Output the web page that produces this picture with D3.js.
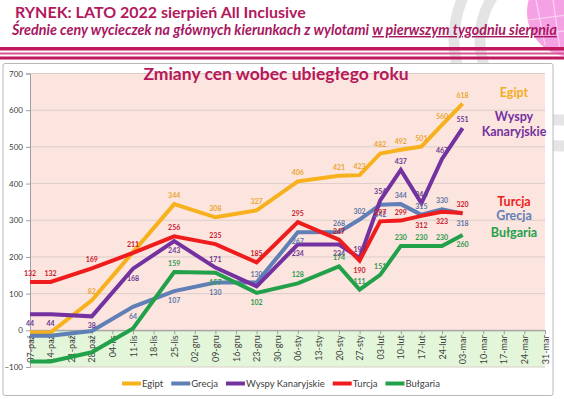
<!DOCTYPE html>
<html>
<head>
<meta charset="utf-8">
<script src="https://cdn.jsdelivr.net/npm/d3@7"></script>
<style>
body { margin: 0; background: #fff; }
svg { display: block; }
text { font-family: Lato, "Open Sans", sans-serif; }
</style>
</head>
<body>
<div id="viz"></div>
<script>
//==============================================================================
// Data (null = no reading that week, line is drawn straight across)
var weeks = ["07-paź","14-paź","21-paź","28-paź","04-lis","11-lis","18-lis","25-lis",
	"02-gru","09-gru","16-gru","23-gru","30-gru","06-sty","13-sty","20-sty","27-sty",
	"03-lut","10-lut","17-lut","24-lut","03-mar","10-mar","17-mar","24-mar","31-mar"];

var egipt    = [-6, -6, null, 82, null, null, null, 344, null, 308, null, 327, null, 406, null, 421, 423, 482, 492, 501, 560, 618];
var grecja   = [-15, -15, null, -2, null, 64, null, 107, null, 130, null, 130, null, 267, null, 268, 302, 342, 344, 315, 330, 318];
var wyspy    = [44, 44, null, 38, null, 168, null, 243, null, 171, null, 120, null, 234, null, 234, 197, 354, 437, 346, 467, 551];
var turcja   = [132, 132, null, 169, null, 211, null, 256, null, 235, null, 185, null, 295, null, 247, 190, 297, 299, 312, 323, 320];
var bulgaria = [-85, -85, null, -60, null, 5, null, 159, null, 157, null, 102, null, 128, null, 174, 111, 151, 230, 230, 230, 260];

var seriesNames = ["Egipt", "Grecja", "Wyspy Kanaryjskie", "Turcja", "Bułgaria"];
var yTicks = [-100, 0, 100, 200, 300, 400, 500, 600, 700];

//==============================================================================
// Layout / style
var width = 564, height = 399;
var plot = {left: 30, right: 545, top: 73.5, bottom: 367};
var font = "Lato, 'Open Sans', sans-serif";

// line colour, label colour, default label side (-1 above, 1 below), flipped / hidden label indices
var styles = [
	{values: egipt,    color: "#f6b11c", lab: "#e9a532", side: -1, flip: [], hide: []},
	{values: grecja,   color: "#5f7fb6", lab: "#5b77a6", side: 1,  flip: [11, 15, 16, 18, 19, 20], hide: []},
	{values: wyspy,    color: "#7332a0", lab: "#6a3a92", side: 1,  flip: [9, 16, 17, 18, 19, 20, 21], hide: [11]},
	{values: turcja,   color: "#ee1c1c", lab: "#c8202c", side: -1, flip: [16, 19, 20], hide: []},
	{values: bulgaria, color: "#22a04a", lab: "#2f9a4e", side: -1, flip: [9, 11, 21], hide: []}
];

var svg = d3.select("#viz").append("svg")
	.attr("width", width)
	.attr("height", height);

//==============================================================================
// Slide decoration
var deco = svg.append("g");
deco.append("circle").attr("cx", 560).attr("cy", 40).attr("r", 106)
	.attr("fill", "none").attr("stroke", "#e4e4e4").attr("stroke-width", 11);
deco.append("circle").attr("cx", 560).attr("cy", 40).attr("r", 80)
	.attr("fill", "none").attr("stroke", "#e4e4e4").attr("stroke-width", 11);

// globe
deco.append("circle").attr("cx", 572).attr("cy", 12).attr("r", 45).attr("fill", "#f5a2e4");
[[535, -5, 545, 45], [552, -8, 560, 50], [528, 20, 575, 14], [532, 34, 575, 30]].forEach(function(p) {
	deco.append("line")
		.attr("x1", p[0]).attr("y1", p[1]).attr("x2", p[2]).attr("y2", p[3])
		.attr("stroke", "#fbd3f2").attr("stroke-width", 1.2);
});

// stripes under title
deco.append("rect").attr("x", 0).attr("y", 47).attr("width", width).attr("height", 3.5).attr("fill", "#c0175d");
deco.append("rect").attr("x", 0).attr("y", 52.5).attr("width", width).attr("height", 2).attr("fill", "#d6568f");
deco.append("rect").attr("x", 0).attr("y", 56.5).attr("width", width).attr("height", 3).attr("fill", "#c0175d");

// titles
svg.append("text")
	.attr("x", 15).attr("y", 18)
	.attr("font-size", 16).attr("font-weight", 700)
	.attr("fill", "#b3185c")
	.text("RYNEK: LATO 2022 sierpień All Inclusive");

var sub = svg.append("text")
	.attr("x", 12).attr("y", 35)
	.attr("font-size", 14.3).attr("font-style", "italic").attr("font-weight", 700)
	.attr("fill", "#a8185f");
sub.append("tspan").text("Średnie ceny wycieczek na głównych kierunkach z wylotami ");
sub.append("tspan").attr("text-decoration", "underline").text("w pierwszym tygodniu sierpnia");

//==============================================================================
// Chart frame and plot backgrounds
svg.append("rect")
	.attr("x", 3).attr("y", 63.5).attr("width", 550).attr("height", 332).attr("rx", 2)
	.attr("fill", "#fff").attr("stroke", "#b8b8b8");

var x = d3.scalePoint().domain(weeks).range([plot.left, plot.right]);
var y = d3.scaleLinear().domain([-100, 700]).range([plot.bottom, plot.top]);

svg.append("rect")
	.attr("x", plot.left).attr("y", y(700))
	.attr("width", plot.right - plot.left).attr("height", y(0) - y(700))
	.attr("fill", "#fde5df");
svg.append("rect")
	.attr("x", plot.left).attr("y", y(0))
	.attr("width", plot.right - plot.left).attr("height", y(-100) - y(0))
	.attr("fill", "#e3f6da");

// gridlines
svg.append("g").selectAll("line")
	.data(yTicks)
	.enter().append("line")
	.attr("x1", plot.left).attr("x2", plot.right)
	.attr("y1", function(d) { return y(d) }).attr("y2", function(d) { return y(d) })
	.attr("stroke", function(d) { return d == 0 ? "#a8a8a8" : "#dccdc9" });

// y axis
var yAxis = svg.append("g")
	.attr("transform", "translate(" + plot.left + ",0)")
	.call(d3.axisLeft(y).tickValues(yTicks).tickSize(4).tickPadding(3));
yAxis.selectAll("text").attr("font-size", 8).attr("font-family", font).attr("fill", "#404040");
yAxis.selectAll("line, path").attr("stroke", "#a0a0a0");

// x axis on the zero line, labels rotated
var xAxis = svg.append("g")
	.attr("transform", "translate(0," + y(0) + ")")
	.call(d3.axisBottom(x).tickSize(4).tickSizeOuter(0));
xAxis.select(".domain").attr("stroke", "#a0a0a0");
xAxis.selectAll("line").attr("stroke", "#a0a0a0");
xAxis.selectAll("text")
	.attr("font-size", 9).attr("font-family", font).attr("fill", "#404040")
	.attr("transform", "rotate(-90)")
	.attr("text-anchor", "end")
	.attr("x", -5).attr("y", 0).attr("dy", "0.35em");

// chart title
svg.append("text")
	.attr("x", 276).attr("y", 79.5)
	.attr("text-anchor", "middle")
	.attr("font-size", 17.5).attr("font-weight", 700)
	.attr("fill", "#b5185b")
	.text("Zmiany cen wobec ubiegłego roku");

//==============================================================================
// Lines
var line = d3.line()
	.x(function(d) { return x(d.week) })
	.y(function(d) { return y(d.v) });

var pts = styles.map(function(s) {
	return s.values.map(function(v, i) { return {week: weeks[i], v: v, i: i} })
		.filter(function(d) { return d.v !== null });
});

svg.append("g").selectAll("path")
	.data(styles)
	.enter().append("path")
	.attr("d", function(s, k) { return line(pts[k]) })
	.attr("fill", "none")
	.attr("stroke", function(s) { return s.color })
	.attr("stroke-width", 4)
	.attr("stroke-linejoin", "miter");

// data labels
styles.forEach(function(s, k) {
	svg.append("g").selectAll("text")
		.data(pts[k].filter(function(d) { return d.v >= 10 && s.hide.indexOf(d.i) < 0 }))
		.enter().append("text")
		.attr("x", function(d) { return x(d.week) })
		.attr("y", function(d) {
			var side = s.flip.indexOf(d.i) >= 0 ? -s.side : s.side;
			return y(d.v) + (side < 0 ? -6 : 12);
		})
		.attr("text-anchor", "middle")
		.attr("font-size", 7).attr("font-weight", 700)
		.attr("fill", s.lab)
		.text(function(d) { return d.v });
});

//==============================================================================
// Series names on the right
var sideNames = [
	{t: "Egipt", y: 97, k: 0},
	{t: "Wyspy", y: 121, k: 2},
	{t: "Kanaryjskie", y: 136, k: 2},
	{t: "Turcja", y: 206, k: 3},
	{t: "Grecja", y: 220, k: 1},
	{t: "Bułgaria", y: 237, k: 4}
];
svg.append("g").selectAll("text")
	.data(sideNames)
	.enter().append("text")
	.attr("x", 514).attr("y", function(d) { return d.y })
	.attr("text-anchor", "middle")
	.attr("font-size", 12.5).attr("font-weight", 700)
	.attr("fill", function(d) { return d.k == 0 ? "#f0ad27" : styles[d.k].color })
	.text(function(d) { return d.t });

//==============================================================================
// Legend
var legend = svg.append("g").attr("transform", "translate(122,383.5)");
var lx = 0;
seriesNames.forEach(function(name, k) {
	var g = legend.append("g").attr("transform", "translate(" + lx + ",0)");
	g.append("line").attr("x1", 0).attr("x2", 19).attr("y1", 0).attr("y2", 0)
		.attr("stroke", styles[k].color).attr("stroke-width", 4);
	var t = g.append("text").attr("x", 20).attr("y", 3.3)
		.attr("font-size", 9.5).attr("fill", "#404040").text(name);
	lx += 20 + t.node().getComputedTextLength() + 8;
});
</script>
</body>
</html>
